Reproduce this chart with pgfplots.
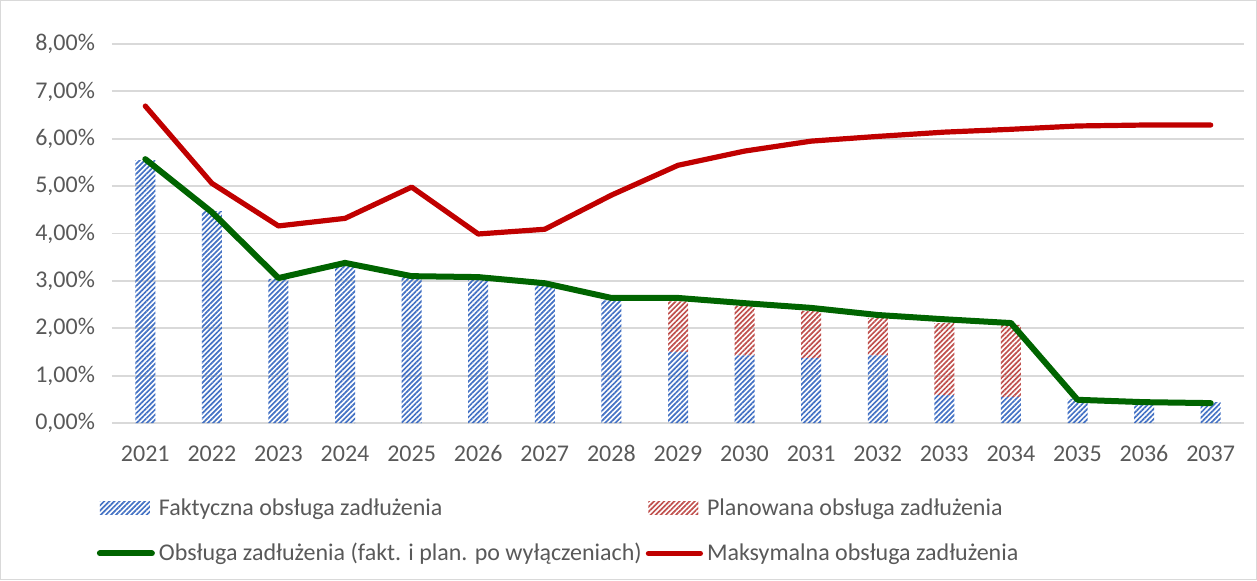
\documentclass[border=0pt]{standalone}
\usepackage{fontspec}
\setmainfont{Carlito}
\usepackage{pgfplots}
\usepackage{pgfplotstable}
\pgfplotsset{compat=1.18}
\usetikzlibrary{patterns.meta}
\definecolor{barblue}{HTML}{4472C4}
\definecolor{barred}{HTML}{C0504D}
\definecolor{lgreen}{HTML}{006400}
\definecolor{lred}{HTML}{C00000}
\definecolor{txt}{HTML}{595959}
\definecolor{gridc}{HTML}{D9D9D9}

\pgfplotstableread{
year fakt plan green red
2021 5.55 0    5.57 6.69
2022 4.47 0    4.45 5.06
2023 3.04 0    3.06 4.16
2024 3.31 0    3.38 4.32
2025 3.08 0    3.10 4.98
2026 3.06 0    3.08 3.99
2027 2.95 0    2.95 4.09
2028 2.59 0    2.64 4.81
2029 1.50 1.07 2.64 5.44
2030 1.43 1.04 2.53 5.74
2031 1.37 0.99 2.43 5.95
2032 1.43 0.79 2.28 6.05
2033 0.59 1.52 2.19 6.14
2034 0.55 1.52 2.11 6.20
2035 0.51 0    0.49 6.27
2036 0.44 0    0.44 6.29
2037 0.44 0    0.42 6.29
}\data

\pgfplotsset{
  myaxis/.style={scale only axis, width=566pt, height=189.5pt,
    xmin=2020.5, xmax=2037.5, ymin=0, ymax=8,
    at={(0,0)}, anchor=south west},
  bluepat/.style={draw=none, pattern={Lines[angle=45,distance=1.8pt,line width=0.85pt]}, pattern color=barblue},
  redpat/.style={draw=none, pattern={Lines[angle=45,distance=1.8pt,line width=0.85pt]}, pattern color=barred},
  barleg/.style={legend image code/.code={\path[##1] (0pt,-3.2pt) rectangle (25pt,3.2pt);}},
  lineleg/.style={legend image code/.code={\draw[##1] (0pt,0pt) -- (26pt,0pt);}},
}

\begin{document}
\begin{tikzpicture}
\begin{axis}[myaxis,
  ybar stacked, bar width=10pt,
  axis line style={draw=none},
  tick style={draw=none},
  ymajorgrids, major grid style={gridc, line width=0.9pt},
  xtick={2021,...,2037}, ytick={0,1,...,8},
  /pgf/number format/assume math mode=true,
  xticklabel style={/pgf/number format/1000 sep={}, text height=8.5pt, text depth=0pt, yshift=-7pt},
  yticklabel style={xshift=-5pt},
  yticklabel={\pgfmathprintnumber[fixed,fixed zerofill,precision=2,use comma]{\tick}\%},
  tick label style={font=\fontsize{12}{14}\selectfont\color{txt}},
]
\addplot[bluepat] table[x=year,y=fakt]{\data};
\addplot[redpat] table[x=year,y=plan]{\data};
\end{axis}
\begin{axis}[myaxis, hide axis,
  legend columns=2,
  legend cell align=left,
  legend style={draw=none, fill=none, font=\fontsize{12}{14}\selectfont\color{txt}, at={(-0.019,-0.177)}, anchor=north west,
    /tikz/every even column/.append style={column sep=0pt}, /tikz/row sep=8.5pt},
]
\addlegendimage{bluepat, barleg}
\addlegendentry{Faktyczna obsługa zadłużenia}
\addlegendimage{redpat, barleg}
\addlegendentry{Planowana obsługa zadłużenia}
\addplot[lgreen, line width=3pt, line join=round, line cap=round, lineleg] table[x=year,y=green]{\data};
\addlegendentry{Obsługa zadłużenia (fakt. i plan. po wyłączeniach)}
\addplot[lred, line width=2.6pt, line join=round, line cap=round, lineleg] table[x=year,y=red]{\data};
\addlegendentry{Maksymalna obsługa zadłużenia}
\end{axis}
\draw[gridc, line width=0.5pt] (-55.75pt,-78.25pt) rectangle (572.25pt,211.25pt);
\useasboundingbox (-56pt,-78.5pt) rectangle (572.5pt,211.5pt);
\end{tikzpicture}
\end{document}
